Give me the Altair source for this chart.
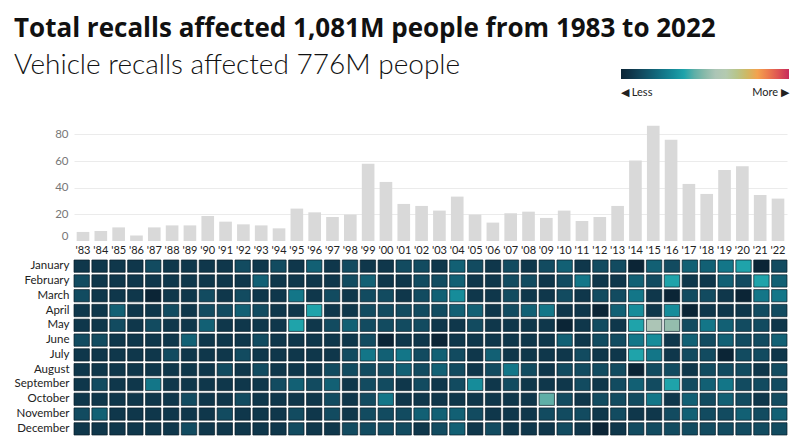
import altair as alt
import pandas as pd

year_labels = ["'83", "'84", "'85", "'86", "'87", "'88", "'89", "'90", "'91", "'92",
               "'93", "'94", "'95", "'96", "'97", "'98", "'99", "'00", "'01", "'02",
               "'03", "'04", "'05", "'06", "'07", "'08", "'09", "'10", "'11", "'12",
               "'13", "'14", "'15", "'16", "'17", "'18", "'19", "'20", "'21", "'22"]

# total people affected per year (millions)
annual_totals = [6.8, 7.5, 10.2, 4.2, 10.2, 11.7, 11.7, 18.7, 14.5, 12.5,
                 11.7, 9.5, 24.3, 21.5, 18.0, 19.8, 58.0, 44.3, 27.8, 26.3,
                 22.8, 33.3, 19.8, 13.8, 20.8, 22.0, 17.3, 22.8, 15.0, 18.0,
                 26.3, 60.3, 86.5, 76.0, 42.8, 35.3, 53.3, 56.0, 34.5, 31.8]

months = ["January", "February", "March", "April", "May", "June", "July",
          "August", "September", "October", "November", "December"]

# monthly intensity (relative, read from cell shades)
jan = [2, 2, 2, 2, 3, 2, 2, 2, 2, 3, 2, 3, 2, 4, 2, 3, 2, 2, 3, 3,
       2, 4, 3, 2, 3, 2, 3, 4, 2, 3, 3, 1, 4, 3, 4, 4, 5, 7, 1, 3]
feb = [3, 2, 2, 2, 2, 2, 2, 2, 2, 2, 4, 2, 2, 2, 2, 3, 4, 2, 2, 3,
       3, 4, 2, 2, 3, 3, 2, 3, 5, 2, 2, 4, 3, 7, 2, 2, 4, 3, 7, 4]
mar = [3, 2, 2, 2, 1, 2, 2, 3, 2, 3, 2, 2, 5, 2, 3, 2, 3, 3, 2, 3,
       4, 6, 2, 2, 3, 2, 2, 3, 2, 3, 3, 5, 2, 1, 3, 3, 2, 1, 5, 5]
apr = [2, 2, 4, 2, 2, 3, 2, 3, 3, 4, 3, 2, 2, 7, 2, 2, 3, 3, 3, 3,
       3, 4, 4, 2, 3, 4, 5, 2, 2, 1, 4, 6, 2, 6, 1, 2, 2, 2, 3, 3]
may = [2, 2, 3, 2, 3, 2, 2, 4, 2, 2, 2, 2, 7, 2, 3, 4, 3, 3, 3, 3,
       2, 2, 3, 2, 2, 2, 2, 1, 2, 3, 2, 7, 10, 9.3, 3, 5, 4, 3, 3, 2]
jun = [3, 3, 2, 2, 2, 2, 4, 2, 2, 2, 3, 2, 2, 2, 2, 2, 3, 1, 2, 2,
       1, 2, 2, 2, 2, 2, 2, 4, 2, 3, 3, 5, 6, 2, 4, 3, 4, 3, 3, 4]
jul = [2, 2, 2, 2, 2, 3, 2, 2, 2, 3, 2, 2, 2, 2, 2, 3, 5, 4, 5, 3,
       4, 3, 2, 4, 2, 2, 2, 2, 3, 2, 2, 7, 5, 2, 3, 3, 1, 3, 3, 2]
aug = [2, 2, 2, 2, 2, 2, 2, 2, 3, 2, 3, 2, 2, 2, 3, 3, 3, 3, 4, 3,
       4, 3, 2, 3, 5, 3, 2, 3, 3, 3, 3, 1, 3, 3, 2, 3, 3, 3, 2, 3]
sep = [2, 3, 2, 2, 5, 2, 2, 2, 2, 2, 2, 3, 4, 3, 4, 2, 3, 3, 2, 3,
       2, 3, 6, 2, 3, 2, 2, 2, 3, 2, 3, 4, 3, 7, 3, 4, 5, 3, 3, 3]
oct_ = [2, 2, 2, 2, 2, 2, 3, 2, 2, 3, 2, 2, 2, 2, 3, 2, 3, 5, 2, 2,
        2, 2, 2, 2, 2, 2, 8, 3, 2, 3, 3, 3, 5, 2, 4, 3, 4, 3, 2, 3]
nov = [3, 4, 2, 2, 2, 2, 2, 2, 3, 2, 2, 2, 3, 2, 3, 2, 3, 3, 3, 4,
       4, 4, 3, 2, 2, 2, 3, 3, 3, 2, 3, 2, 2, 3, 4, 3, 3, 4, 3, 4]
dec = [2, 2, 2, 2, 2, 2, 3, 2, 2, 2, 2, 2, 3, 2, 2, 3, 3, 3, 3, 2,
       3, 4, 2, 3, 2, 2, 2, 3, 2, 1, 2, 3, 3, 3, 3, 3, 3, 3, 3, 3]

monthly = [jan, feb, mar, apr, may, jun, jul, aug, sep, oct_, nov, dec]

color_stops = [1, 7, 10.5, 14, 17]
color_range = ["#0b2536", "#1fa3aa", "#bccabf", "#f3a24f", "#c72a5c"]

df_bar = pd.DataFrame({"year": year_labels, "total": annual_totals})
rows = []
for m, vals in zip(months, monthly):
    for y, v in zip(year_labels, vals):
        rows.append({"month": m, "year": y, "level": v})
df_heat = pd.DataFrame(rows)

FONT = "Lato"

bar = alt.Chart(df_bar).mark_bar(color="#d9d9d9").encode(
    x=alt.X("year:N", sort=year_labels,
            scale=alt.Scale(paddingInner=0.29, paddingOuter=0.15),
            axis=alt.Axis(title=None, labelAngle=0, domain=False, ticks=False,
                          labelFontSize=11, labelColor="#222", labelPadding=3,
                          labelFont=FONT)),
    y=alt.Y("total:Q", scale=alt.Scale(domain=[0, 90]),
            axis=alt.Axis(title=None, values=[0, 20, 40, 60, 80], domain=False,
                          ticks=False, labelFontSize=11.5, labelColor="#777",
                          labelFont=FONT, labelPadding=6, gridColor="#ebebeb",
                          gridOpacity=alt.condition("datum.value == 0", alt.value(0), alt.value(1)),
                          labelBaseline=alt.condition("datum.value == 0", alt.value("bottom"), alt.value("middle")))),
).properties(width=713, height=120)

heat = alt.Chart(df_heat).mark_rect(stroke="#0a1e29", strokeWidth=0.7).encode(
    x=alt.X("year:N", sort=year_labels,
            scale=alt.Scale(paddingInner=0.14, paddingOuter=0),
            axis=None),
    y=alt.Y("month:N", sort=months,
            scale=alt.Scale(paddingInner=0.17, paddingOuter=0),
            axis=alt.Axis(title=None, domain=False, ticks=False, labelFontSize=11.5,
                          labelColor="#222", labelFont=FONT, labelPadding=5)),
    color=alt.Color("level:Q",
                    scale=alt.Scale(domain=color_stops, range=color_range),
                    legend=alt.Legend(title=None, orient="none", direction="horizontal",
                                      legendX=547, legendY=-52, gradientLength=168,
                                      gradientThickness=10, gradientStrokeWidth=0,
                                      values=[1, 17], labelFont=FONT, labelFontSize=11,
                                      labelColor="#222", labelOffset=8,
                                      labelExpr="datum.value <= 1 ? '\u25c0  Less' : 'More  \u25b6'")),
).properties(width=713, height=175)

chart = alt.vconcat(bar, heat, spacing=4).resolve_scale(x="independent").properties(
    title=alt.TitleParams(
        text="Total recalls affected 1,081M people from 1983 to 2022",
        subtitle="Vehicle recalls affected 776M people",
        anchor="start", font="Open Sans", fontSize=26, fontWeight="bold", color="#111",
        subtitleFont=FONT, subtitleFontSize=28, subtitleFontWeight=300,
        subtitleColor="#111", subtitlePadding=10, offset=-11),
    padding={"left": 6, "top": 8, "right": 2, "bottom": 0},
).configure_view(stroke=None)

chart.save("out.html", embed_options={"renderer": "svg", "actions": False})
